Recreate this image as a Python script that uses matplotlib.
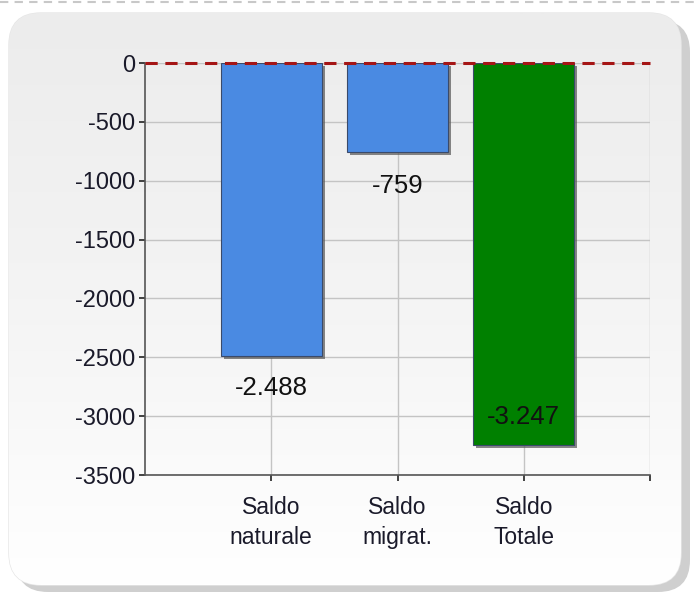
import numpy as np
import matplotlib
matplotlib.use("Agg")
import matplotlib.pyplot as plt
from matplotlib.patches import FancyBboxPatch
import matplotlib.patheffects as pe

plt.rcParams['font.family'] = ['Liberation Sans', 'DejaVu Sans']

categories = ["Saldo\nnaturale", "Saldo\nmigrat.", "Saldo\nTotale"]
values = [-2488, -759, -3247]
value_labels = ["-2.488", "-759", "-3.247"]
bar_colors = ["#4a8ae2", "#4a8ae2", "#008000"]
yticks = [0, -500, -1000, -1500, -2000, -2500, -3000, -3500]

W, H = 699, 595
fig = plt.figure(figsize=(W / 100, H / 100), dpi=100)
fig.patch.set_facecolor("white")

# background panel
bg = fig.add_axes([0, 0, 1, 1])
bg.set_xlim(0, W)
bg.set_ylim(H, 0)
bg.axis("off")
bg.plot([0, W], [2, 2], color="#c8c8c8", lw=1.5, ls=(0, (4, 3)))
shadow = FancyBboxPatch((16, 20), 674, 572, boxstyle="round,pad=0,rounding_size=32",
                        facecolor="#b0b0b0", edgecolor="none", alpha=0.6)
bg.add_patch(shadow)
panel = FancyBboxPatch((9, 13), 672, 572, boxstyle="round,pad=0,rounding_size=32",
                       facecolor="none", edgecolor="#e6e6e6", lw=1)
bg.add_patch(panel)
grad = np.linspace(0, 1, 256).reshape(-1, 1)
cmap = matplotlib.colors.LinearSegmentedColormap.from_list("g", ["#ececec", "#f4f4f4", "#ffffff"])
im = bg.imshow(grad, extent=[9, 681, 585, 13], cmap=cmap, aspect="auto", zorder=1)
im.set_clip_path(panel)

ax = fig.add_axes([145 / W, 1 - 475 / H, (650 - 145) / W, (475 - 63) / H])
ax.patch.set_alpha(0)
x = np.arange(1, len(categories) + 1)
bars = ax.bar(x, values, width=0.8, color=bar_colors, edgecolor="#3a4a6a", linewidth=0.8, zorder=3)
for b in bars:
    b.set_path_effects([pe.SimplePatchShadow(offset=(2, -2), shadow_rgbFace="#555555", alpha=0.7), pe.Normal()])

ax.set_xlim(0, 4)
ax.set_ylim(-3500, 0)
ax.set_yticks(yticks)
ax.set_yticklabels([str(t) for t in yticks], fontsize=17)
ax.set_xticks([1, 2, 3, 4])
ax.set_xticklabels(categories + [""], fontsize=16.5, linespacing=1.4)
ax.tick_params(axis="both", direction="out", length=4, width=1.2, color="#222222", labelcolor="#1a1a2a")
ax.tick_params(axis="x", pad=11)
ax.tick_params(axis="y", pad=3)
ax.grid(True, color="#c4c4c4", lw=1, zorder=0)
for s in ["top", "right"]:
    ax.spines[s].set_visible(False)
for s in ["left", "bottom"]:
    ax.spines[s].set_color("#555555")
    ax.spines[s].set_linewidth(1.2)
ax.axhline(0, color="#a51515", lw=2.2, ls=(0, (4, 2.5)), zorder=5, clip_on=False)

offsets = [-23, -24, 20]
for xi, v, lab, off in zip(x, values, value_labels, offsets):
    ax.annotate(lab, (xi, v), xytext=(0, off), textcoords="offset points",
                ha="center", va="center", fontsize=18.5, color="#111111", zorder=6)

fig.savefig("out.png", dpi=100)
